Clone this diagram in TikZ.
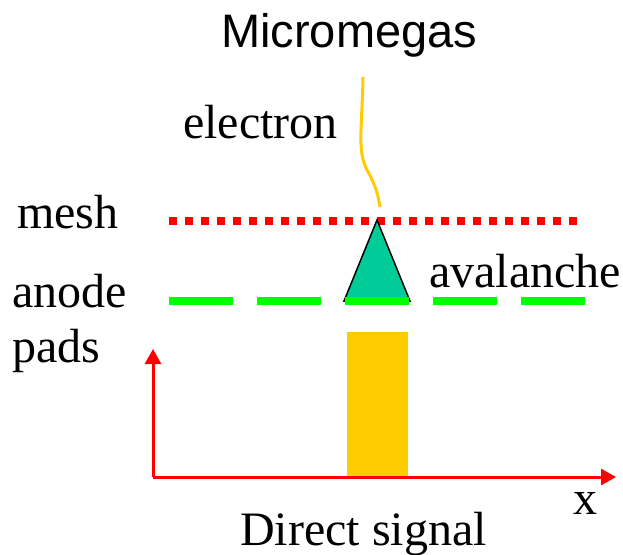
\documentclass[tikz,border=0pt]{standalone}
\usepackage{xcolor}
\definecolor{meshred}{RGB}{255,0,0}
\definecolor{anodegreen}{RGB}{0,255,0}
\definecolor{avalanche}{RGB}{0,204,153}
\definecolor{signal}{RGB}{255,204,0}
\usepackage{fontspec}
\setmainfont{Liberation Serif}
\newfontfamily\titlefont{Liberation Sans}
\usepackage{tikz}
\usetikzlibrary{
    arrows.meta,
    positioning,
    calc
}

\tikzset{
    label text/.style={anchor=base west, inner sep=0pt, font=\fontsize{48}{52}\selectfont},
    axis/.style={meshred, line width=3pt, -{Triangle[width=16pt,length=15pt]}}
}

\begin{document}
\begin{tikzpicture}[x=1pt, y=-1pt]
        \useasboundingbox (0,0) rectangle (623,554);
        % labels
        \node[label text, font=\fontsize{47}{52}\selectfont] (title) at (221,47) {\titlefont Micromegas};
        \node[label text] (electron) at (183,138) {electron};
        \node[label text] (mesh) at (17,228) {mesh};
        \node[label text] (anode) at (12,307) {anode};
        \node[label text] (pads) at (12,362) {pads};
        \node[label text] (avalanche) at (429,287) {avalanche};
        \node[label text] (xlabel) at (573,514) {x};
        \node[label text] (signal) at (240,545) {Direct signal};
        % incoming electron
        \draw[signal, line width=3pt] (363,77) .. controls (362,130) and (357,150) .. (367,170)
            .. controls (376,186) and (378,195) .. (380,207);
        % mesh and anode
        \draw[meshred, line width=8pt, dash pattern=on 8pt off 8pt] (169,221) -- (577,221);
        \filldraw[fill=avalanche, draw=black, line width=1.5pt, line join=miter] (377,220) -- (410,301) -- (344,301) -- cycle;
        \draw[anodegreen, line width=8pt, dash pattern=on 64pt off 24pt] (169,301) -- (585,301);
        % induced signal
        \fill[signal] (347,332) rectangle (408,477);
        \coordinate (origin) at (153,477);
        \coordinate (ytip) at (153,349);
        \coordinate (xtip) at (616,477);
        \draw[axis] (origin) -- (ytip);
        \draw[axis] (origin) -- (xtip);
    \end{tikzpicture}
\end{document}
